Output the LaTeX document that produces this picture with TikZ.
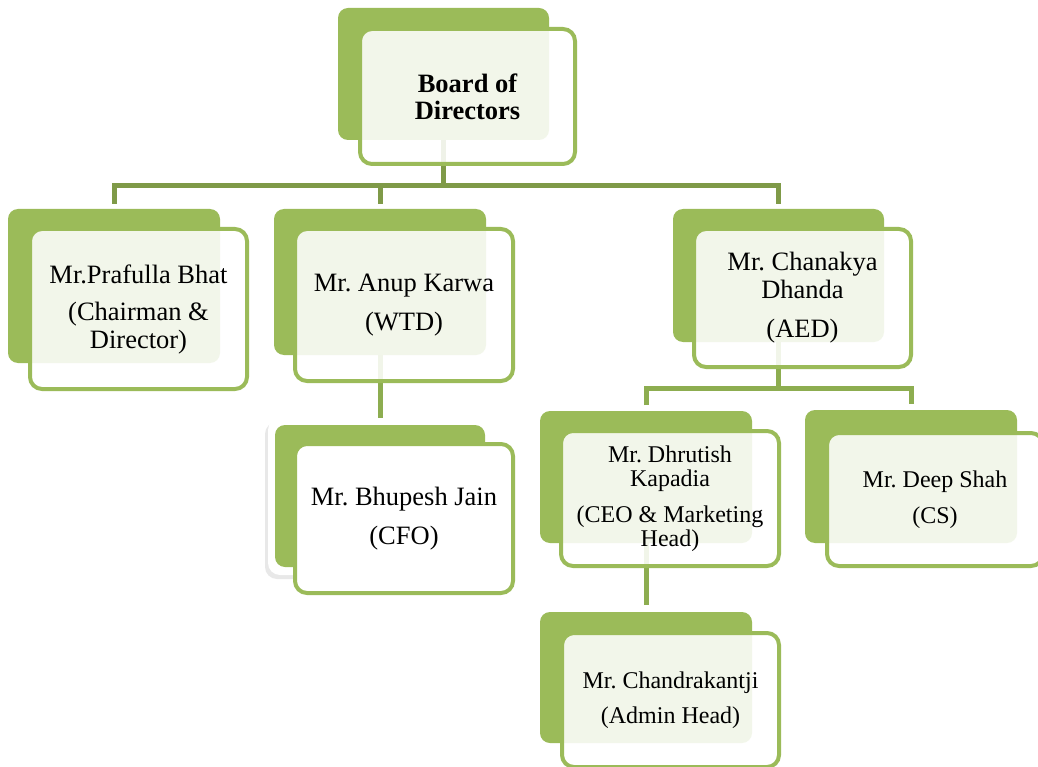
\documentclass[tikz,border=0pt]{standalone}
\usepackage{fontspec}
\setmainfont{Liberation Serif}
\frenchspacing
\usetikzlibrary{shadows}
\definecolor{boxgreen}{HTML}{9BBB59}
\definecolor{lineone}{HTML}{7F9A48}
\definecolor{linetwo}{HTML}{8DAD50}
\tikzset{
  backbox/.style={fill=boxgreen, draw=none, rounded corners=10pt, inner sep=0pt, outer sep=0pt},
  frontbox/.style={draw=boxgreen, line width=4pt, fill=white, fill opacity=0.88, text opacity=1,
    rounded corners=12pt, inner sep=0pt, outer sep=0pt, align=center, text=black},
  bigtext/.style={font=\frenchspacing\fontsize{26.5}{28}\selectfont},
  smalltext/.style={font=\frenchspacing\fontsize{24}{24.5}\selectfont},
  lvlone/.style={draw=lineone, line width=5pt},
  lvltwo/.style={draw=linetwo, line width=5pt},
  boxdims/.style 2 args={minimum width=#1pt, minimum height=#2pt},
}
\begin{document}
\begin{tikzpicture}[x=1pt,y=-1pt]
\useasboundingbox (0,0) rectangle (1038,767);
\clip (0,0) rectangle (1038,767);
\fill[white] (0,0) rectangle (1038,767);

% white shadowed card behind CFO
\node[fill=white, rounded corners=12pt, inner sep=0pt, boxdims={224}{157},
  drop shadow={shadow xshift=-3pt, shadow yshift=-4pt, opacity=0.18}] (cw) at (380,496.5) {};

% back boxes
\node[backbox, boxdims={211}{132}] (bb) at (443.5,74) {};
\node[backbox, boxdims={212}{154}] (pb) at (114,286) {};
\node[backbox, boxdims={212}{146}] (ab) at (380,282) {};
\node[backbox, boxdims={211}{133}] (cb) at (778.5,275.5) {};
\node[backbox, boxdims={210}{142}] (fb) at (380,496) {};
\node[backbox, boxdims={212}{132}] (db) at (646,477) {};
\node[backbox, boxdims={212}{133}] (sb) at (911,476.5) {};
\node[backbox, boxdims={212}{131}] (hb) at (646,677.5) {};

% connectors
\coordinate (busone) at (443.5,186);
\coordinate (bustwo) at (778.5,388);
\draw[lvlone] (bb.south) -- (busone);
\draw[lvlone] ([yshift=5pt]pb.north) |- (busone) -| ([yshift=5pt]cb.north);
\draw[lvlone] ([yshift=5pt]ab.north) -- (ab.north |- busone);
\draw[lvltwo] (ab.south) -- (cw.north);
\draw[lvltwo] (cb.south) -- (bustwo);
\draw[lvltwo] ([yshift=6pt]db.north) |- (bustwo) -| ([yshift=6pt]sb.north);
\draw[lvltwo] (db.south) -- ([yshift=7pt]hb.north);

% front boxes
\node[frontbox, boxdims={215}{135}, font=\bfseries\fontsize{26.5}{27}\selectfont] (bf) at (467.5,96.5) {Board of\\Directors};
\node[frontbox, bigtext, boxdims={217}{160}] (pf) at (138.5,309) {Mr.Prafulla Bhat\\[9pt](Chairman \&\\Director)};
\node[frontbox, bigtext, boxdims={218}{152}] (af) at (404,305) {Mr. Anup Karwa\\[11pt](WTD)};
\node[frontbox, bigtext, boxdims={217}{138}] (cf) at (802.5,298) {Mr. Chanakya\\Dhanda\\[11pt](AED)};
\node[frontbox, bigtext, fill opacity=1, boxdims={218}{149}] (ff) at (404,518.5) {Mr. Bhupesh Jain\\[11pt](CFO)};
\node[frontbox, smalltext, boxdims={218}{135}] (df) at (670,498.5) {Mr. Dhrutish\\Kapadia\\[11pt](CEO \& Marketing\\Head)};
\node[frontbox, smalltext, boxdims={216}{133}] (sf) at (935,499.5) {Mr. Deep Shah\\[12pt](CS)};
\node[frontbox, smalltext, boxdims={217}{134}] (hf) at (670.5,700) {Mr. Chandrakantji\\[11pt](Admin Head)};
\end{tikzpicture}
\end{document}
